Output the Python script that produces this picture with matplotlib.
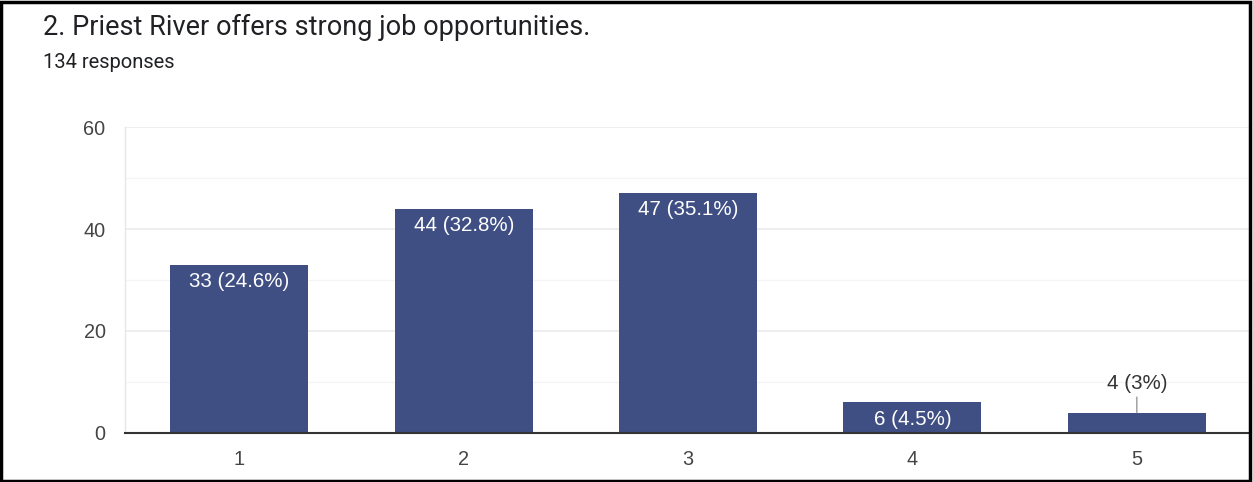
import matplotlib
matplotlib.use("Agg")
import matplotlib.pyplot as plt
from matplotlib.patches import Rectangle

categories = ["1", "2", "3", "4", "5"]
counts = [33, 44, 47, 6, 4]
labels = ["33 (24.6%)", "44 (32.8%)", "47 (35.1%)", "6 (4.5%)", "4 (3%)"]
title = "2. Priest River offers strong job opportunities."
subtitle = "134 responses"
yticks = [0, 20, 40, 60]
minor_yticks = [10, 30, 50]

plt.rcParams['font.family'] = ['Liberation Sans', 'DejaVu Sans']

W, H = 1253, 482
fig = plt.figure(figsize=(W/100, H/100), dpi=100)
ax = fig.add_axes([125/W, 49/H, (1249-125)/W, (433-127)/H])

x = list(range(1, len(categories)+1))
bar_color = "#3f4f83"
ax.bar(x, counts, width=0.615, color=bar_color, zorder=3)

ax.set_xlim(0.49, 5.5)
ax.set_ylim(0, 60)
ax.set_yticks(yticks)
ax.set_yticks(minor_yticks, minor=True)
ax.set_xticks(x)
ax.set_xticklabels(categories)
ax.grid(axis='y', which='major', color='#ebebeb', linewidth=1.2, zorder=0)
ax.grid(axis='y', which='minor', color='#f5f5f5', linewidth=1.0, zorder=0)
ax.tick_params(axis='both', which='both', length=0, labelsize=14.3, labelcolor='#444444')
ax.tick_params(axis='y', pad=14)
ax.tick_params(axis='x', pad=12)
for s in ['top', 'right']:
    ax.spines[s].set_visible(False)
ax.spines['left'].set_color('#e6e6e6')
ax.spines['left'].set_linewidth(1.0)
ax.spines['bottom'].set_color('#333333')
ax.spines['bottom'].set_linewidth(1.5)
ax.spines['bottom'].set_zorder(4)

for xi, c, lab in zip(x, counts, labels):
    if c >= 6:
        ax.annotate(lab, (xi, c), xytext=(0, -12), textcoords='offset points',
                    ha='center', va='center', color='white', fontsize=14.8, zorder=5)
    else:
        ax.annotate(lab, (xi, c), xytext=(0, 21), textcoords='offset points',
                    ha='center', va='center', color='#333333', fontsize=14.8, zorder=5,
                    arrowprops=dict(arrowstyle='-', color='#999999', lw=1,
                                    shrinkA=1, shrinkB=0))

fig.text(43/W, 1 - 27/H, title, fontsize=19.5, color='#202124', ha='left', va='center',
         family=['Roboto', 'DejaVu Sans'])
fig.text(43/W, 1 - 62/H, subtitle, fontsize=14.5, color='#202124', ha='left', va='center',
         family=['Roboto', 'DejaVu Sans'])

fig.patches.append(Rectangle((1/W, 1/H), (W-4)/W, (H-3)/H, transform=fig.transFigure,
                             fill=False, edgecolor='black', linewidth=2.5, zorder=10))

fig.savefig("out.png", dpi=100)
